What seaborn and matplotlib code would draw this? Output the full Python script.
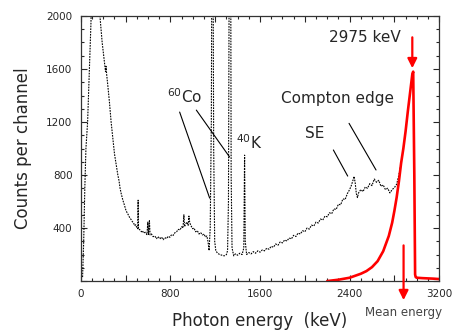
import seaborn as sns
import numpy as np
import matplotlib.pyplot as plt
from matplotlib.ticker import MultipleLocator, FuncFormatter

# measured background spectrum (black, dotted)
bg_energy = [15, 25, 35, 45, 60, 70, 80, 90, 100, 120, 150, 170, 190, 210, 220, 225, 230,
             240, 255, 270, 285, 300, 315, 330, 340, 350, 360, 375, 390, 400, 410,
             420, 435, 450, 460, 470, 480, 490, 500, 508, 511, 514, 525, 540, 550, 560,
             575, 590, 598, 604, 612, 618, 630, 645, 660, 675, 690, 705, 720, 735, 750,
             765, 780, 795, 810, 825, 840, 855, 870, 885, 900, 912, 920, 926, 935, 948,
             958, 965, 972, 985, 998, 1010, 1025, 1040, 1055, 1070, 1085, 1100, 1112,
             1125, 1135, 1145, 1155, 1165, 1170, 1180, 1186, 1195, 1205, 1220, 1240,
             1260, 1280, 1300, 1310, 1318, 1325, 1338, 1342, 1350, 1365, 1380, 1400,
             1420, 1440, 1455, 1462, 1468,
             1480, 1500, 1520, 1540, 1560, 1580, 1600, 1620, 1640, 1660, 1680, 1700,
             1720, 1740, 1760, 1780, 1800, 1820, 1840, 1860, 1880, 1900, 1920, 1940,
             1960, 1980, 2000, 2020, 2040, 2060, 2080, 2100, 2120, 2140, 2160, 2180,
             2200, 2220, 2240, 2260, 2280, 2300, 2320, 2340, 2360, 2380, 2400, 2415,
             2430, 2440, 2450, 2460, 2470, 2480, 2500, 2520, 2540, 2560, 2580, 2600,
             2620, 2640, 2660, 2680, 2700, 2720, 2740, 2760, 2780, 2800, 2820, 2840, 2860]
bg_counts = [30, 300, 700, 1000, 1200, 1450, 1700, 1950, 2300, 2600, 2400, 2000, 1800, 1650,
             1580, 1620, 1560, 1480, 1350, 1200, 1080, 960, 880, 800, 760, 700, 660, 610,
             570, 540, 520,
             505, 480, 462, 448, 440, 418, 425, 400, 395, 610, 392, 388, 372, 380, 362,
             368, 350, 445, 352, 455, 348, 355, 335, 340, 320, 335, 318, 332, 312, 328,
             320, 338, 330, 350, 345, 365, 372, 390, 385, 410, 400, 500, 410, 430, 445,
             420, 490, 440, 415, 395, 400, 372, 380, 355, 365, 348, 355, 332,
             340, 300, 230, 400, 1200, 2500, 2500, 1000, 300, 230, 210, 200,
             195, 190, 200, 230, 600, 2500, 2500, 800, 250, 190, 205, 195,
             210, 200, 250, 950, 300,
             200, 215, 205, 222, 210, 228, 218, 235, 228, 248, 240, 262,
             255, 280, 270, 295, 288, 310, 302, 325, 318, 345, 336, 362,
             355, 380, 372, 400, 392, 422, 415, 445, 438, 468, 460, 490,
             485, 515, 508, 545, 540, 580, 575, 620, 615, 660, 690, 720,
             760, 790, 740, 660, 630, 665, 690, 675, 710, 700, 735, 720,
             770, 745, 760, 715, 725, 690, 700, 665, 690, 705, 730, 800, 890]

# simulated source spectrum (red)
src_energy = [2200, 2300, 2400, 2450, 2500, 2550, 2600, 2650, 2700, 2750, 2780, 2800,
              2820, 2840, 2860, 2880, 2900, 2920, 2940, 2960, 2968, 2978, 2985, 2990,
              3000, 3050, 3100, 3150, 3200]
src_counts = [0, 10, 25, 40, 55, 75, 105, 150, 225, 340, 440, 530,
              630, 750, 890, 1000, 1130, 1280, 1420, 1560, 1580, 800, 50, 30,
              25, 22, 20, 18, 15]

sns.set_style('ticks')
plt.rcParams['font.family'] = ['DejaVu Sans']

fig = plt.figure(figsize=(4.57, 3.33), dpi=100)
ax = fig.add_axes([0.177, 0.156, 0.784, 0.796])

sns.lineplot(x=bg_energy, y=bg_counts, ax=ax, estimator=None, sort=False,
             color='black', lw=0.8, linestyle=(0, (1.5, 1)))
sns.lineplot(x=src_energy, y=src_counts, ax=ax, estimator=None, sort=False,
             color='red', lw=1.9)

ax.set_xlim(0, 3200)
ax.set_ylim(0, 2000)
ax.xaxis.set_major_locator(MultipleLocator(400))
ax.xaxis.set_minor_locator(MultipleLocator(100))
ax.yaxis.set_major_locator(MultipleLocator(400))
ax.yaxis.set_minor_locator(MultipleLocator(100))
ax.xaxis.set_major_formatter(FuncFormatter(lambda v, p: f'{int(v)}' if v % 800 == 0 else ''))
ax.yaxis.set_major_formatter(FuncFormatter(lambda v, p: f'{int(v)}' if v > 0 else ''))
ax.tick_params(which='both', direction='in', top=True, right=True, labelsize=7.5, pad=6)
ax.tick_params(which='major', length=4.5, width=0.8)
ax.tick_params(which='minor', length=2.5, width=0.8)
for s in ax.spines.values():
    s.set_linewidth(0.9)
    s.set_color('#333333')

ax.set_xlabel('Photon energy  (keV)', fontsize=12, labelpad=9)
ax.set_ylabel('Counts per channel', fontsize=12, labelpad=10)

# annotations
ax.text(767, 1389, r'$^{60}$Co', fontsize=11, va='center', ha='left')
ax.plot([882, 1150], [1275, 626], color='black', lw=0.8)
ax.plot([1031, 1328], [1290, 936], color='black', lw=0.8)
ax.text(1382, 1041, r'$^{40}$K', fontsize=11, va='center', ha='left')
ax.text(2090, 1117, 'SE', fontsize=11, va='center', ha='center')
ax.plot([2255, 2383], [989, 792], color='black', lw=0.8)
ax.text(2291, 1374, 'Compton edge', fontsize=11, va='center', ha='center')
ax.plot([2395, 2636], [1190, 838], color='black', lw=0.8)
ax.text(2540, 1836, '2975 keV', fontsize=11, va='center', ha='center')
ax.annotate('', xy=(2960, 1585), xytext=(2960, 1860),
            arrowprops=dict(arrowstyle='-|>', color='red', lw=1.6, mutation_scale=14))
ax.annotate('', xy=(2882, -165), xytext=(2882, 290), annotation_clip=False,
            arrowprops=dict(arrowstyle='-|>', color='red', lw=1.6, mutation_scale=14))
ax.text(2882, -240, 'Mean energy', fontsize=8.5, va='center', ha='center',
        color='#444444', clip_on=False)

fig.savefig('out.png', dpi=100)
